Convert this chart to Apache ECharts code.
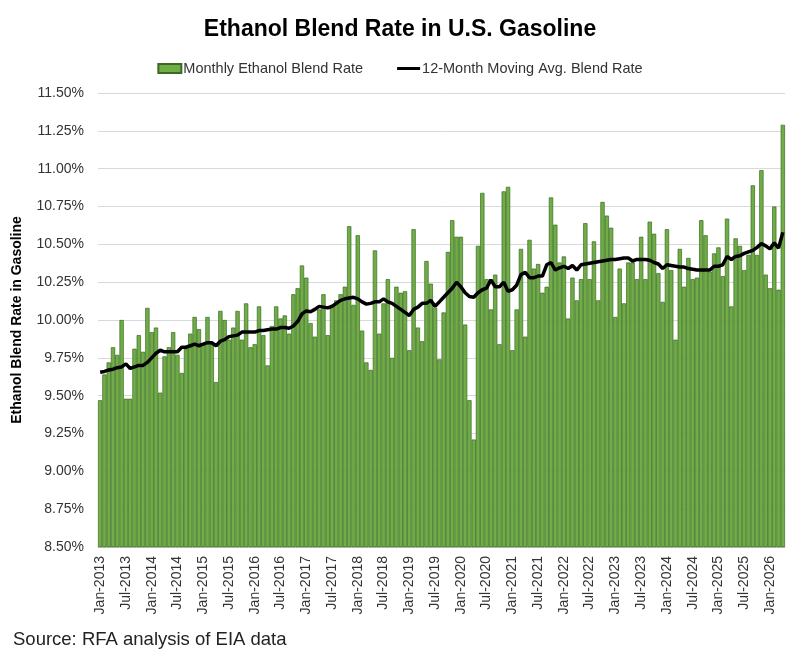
<!DOCTYPE html>
<html>
<head>
<meta charset="utf-8">
<title>Ethanol Blend Rate in U.S. Gasoline</title>
<script src="https://cdn.jsdelivr.net/npm/echarts@6/dist/echarts.min.js"></script>
<style>
  html, body { margin: 0; padding: 0; background: #fff; }
  #chart { width: 800px; height: 660px; }
</style>
</head>
<body>
<div id="chart"></div>
<script>
// category labels: Jan-2013 .. Apr-2026
var monthNames = ['Jan', 'Feb', 'Mar', 'Apr', 'May', 'Jun', 'Jul', 'Aug', 'Sep', 'Oct', 'Nov', 'Dec'];
var firstYear = 2013;
var monthCount = 160;

// monthly blend rate, %
var blendRate = [
  9.47, 9.64, 9.72, 9.82, 9.77, 10.00, 9.48, 9.48, 9.81, 9.90, 9.79, 10.08,   // 2013
  9.92, 9.95, 9.52, 9.76, 9.82, 9.92, 9.77, 9.65, 9.81, 9.91, 10.02, 9.94,    // 2014
  9.84, 10.02, 9.84, 9.59, 10.06, 10.00, 9.87, 9.95, 10.06, 9.87, 10.11, 9.82, // 2015
  9.84, 10.09, 9.90, 9.70, 9.96, 10.09, 10.01, 10.03, 9.91, 10.17, 10.21, 10.36, // 2016
  10.28, 9.98, 9.89, 10.07, 10.17, 9.90, 10.10, 10.13, 10.17, 10.22, 10.62, 10.10, // 2017
  10.56, 9.93, 9.72, 9.67, 10.46, 9.91, 10.11, 10.27, 9.75, 10.22, 10.18, 10.19,  // 2018
  9.80, 10.60, 9.95, 9.86, 10.39, 10.24, 10.08, 9.74, 10.05, 10.45, 10.66, 10.55, // 2019
  10.55, 9.97, 9.47, 9.21, 10.49, 10.84, 10.27, 10.07, 10.30, 9.84, 10.85, 10.88, // 2020
  9.80, 10.07, 10.47, 9.89, 10.53, 10.34, 10.37, 10.18, 10.22, 10.81, 10.63, 10.38, // 2021
  10.42, 10.01, 10.28, 10.13, 10.27, 10.64, 10.27, 10.52, 10.13, 10.78, 10.69, 10.61, // 2022
  10.02, 10.34, 10.11, 10.38, 10.38, 10.27, 10.55, 10.27, 10.65, 10.57, 10.31, 10.12, // 2023
  10.60, 10.33, 9.87, 10.47, 10.22, 10.41, 10.27, 10.28, 10.66, 10.56, 10.32, 10.44, // 2024
  10.48, 10.29, 10.67, 10.09, 10.54, 10.49, 10.33, 10.43, 10.89, 10.43, 10.99, 10.30, // 2025
  10.21, 10.75, 10.20, 11.29                                                     // 2026
];

// 12-month moving average, %
var movingAvg = [
  9.655, 9.66, 9.67, 9.675, 9.685, 9.69, 9.71, 9.68, 9.69, 9.70, 9.70, 9.72,
  9.75, 9.78, 9.80, 9.79, 9.79, 9.79, 9.79, 9.82, 9.82, 9.83, 9.84, 9.83,
  9.84, 9.85, 9.85, 9.83, 9.86, 9.87, 9.89, 9.895, 9.90, 9.92, 9.92, 9.92,
  9.92, 9.93, 9.93, 9.935, 9.94, 9.94, 9.95, 9.95, 9.945, 9.96, 9.99, 10.04,
  10.06, 10.055, 10.07, 10.09, 10.085, 10.08, 10.09, 10.11, 10.13, 10.14, 10.145, 10.15,
  10.14, 10.12, 10.105, 10.11, 10.12, 10.12, 10.14, 10.12, 10.11, 10.09, 10.07, 10.05,
  10.03, 10.07, 10.085, 10.11, 10.11, 10.13, 10.09, 10.12, 10.15, 10.18, 10.21, 10.25,
  10.22, 10.18, 10.155, 10.15, 10.18, 10.20, 10.21, 10.265, 10.22, 10.22, 10.25, 10.19,
  10.20, 10.23, 10.30, 10.315, 10.28, 10.28, 10.29, 10.29, 10.365, 10.38, 10.33, 10.345,
  10.355, 10.34, 10.36, 10.33, 10.365, 10.37, 10.375, 10.38, 10.385, 10.39, 10.395, 10.40,
  10.40, 10.405, 10.41, 10.41, 10.39, 10.40, 10.40, 10.40, 10.395, 10.38, 10.37, 10.34,
  10.365, 10.36, 10.355, 10.35, 10.35, 10.34, 10.335, 10.33, 10.33, 10.33, 10.33, 10.355,
  10.355, 10.365, 10.42, 10.40, 10.42, 10.425, 10.44, 10.45, 10.46, 10.48, 10.505, 10.49,
  10.47, 10.51, 10.475, 10.58
];

var yMin = 8.5, yMax = 11.5, yStep = 0.25;

var categories = [];
for (var i = 0; i < monthCount; i++) {
  categories.push(monthNames[i % 12] + '-' + (firstYear + Math.floor(i / 12)));
}

var myChart = echarts.init(document.getElementById('chart'));
var font = '"Liberation Sans", Arial, sans-serif';

var option = {
  backgroundColor: '#fff',
  animation: false,
  textStyle: { fontFamily: font },
  title: {
    text: 'Ethanol Blend Rate in U.S. Gasoline',
    left: 'center',
    top: 13,
    textStyle: { fontSize: 23, fontWeight: 'bold', color: '#000', fontFamily: font }
  },
  legend: {
    top: 56,
    left: 'center',
    itemGap: 34,
    itemWidth: 23,
    itemHeight: 9,
    textStyle: { fontSize: 14.5, color: '#333', padding: [0, 0, 0, -3] },
    data: [
      { name: 'Monthly Ethanol Blend Rate', icon: 'rect' },
      { name: '12-Month Moving Avg. Blend Rate', icon: 'path://M0,0 L23,0 L23,3 L0,3 Z' }
    ]
  },
  grid: {
    left: 98,
    right: 15,
    top: 93,
    bottom: 113
  },
  xAxis: {
    type: 'category',
    data: categories,
    axisLine: { show: true, lineStyle: { color: '#d9d9d9' } },
    axisTick: { show: false },
    axisLabel: {
      interval: 5,
      rotate: 90,
      fontSize: 14,
      color: '#333',
      margin: 9
    }
  },
  yAxis: {
    type: 'value',
    min: yMin,
    max: yMax,
    interval: yStep,
    name: 'Ethanol Blend Rate in Gasoline',
    nameLocation: 'middle',
    nameRotate: 90,
    nameGap: 74,
    nameTextStyle: { fontSize: 14, fontWeight: 'bold', color: '#000' },
    axisLine: { show: false },
    axisTick: { show: false },
    axisLabel: {
      fontSize: 14,
      color: '#333',
      margin: 14,
      formatter: function (v) { return v.toFixed(2) + '%'; }
    },
    splitLine: { lineStyle: { color: '#d9d9d9', width: 1 } }
  },
  series: [
    {
      name: 'Monthly Ethanol Blend Rate',
      type: 'bar',
      data: blendRate,
      barCategoryGap: '0%',
      itemStyle: {
        color: '#70ad47',
        borderColor: '#3b6b23',
        borderWidth: 0.7
      }
    },
    {
      name: '12-Month Moving Avg. Blend Rate',
      type: 'line',
      data: movingAvg,
      symbol: 'none',
      smooth: false,
      z: 5,
      lineStyle: { color: '#000', width: 3.5 },
      itemStyle: { color: '#000' }
    }
  ],
  graphic: [
    {
      type: 'text',
      left: 13,
      top: 630,
      style: {
        text: 'Source: RFA analysis of EIA data',
        fontSize: 18.5,
        fontFamily: font,
        fill: '#222'
      }
    }
  ]
};

myChart.setOption(option);
</script>
</body>
</html>
